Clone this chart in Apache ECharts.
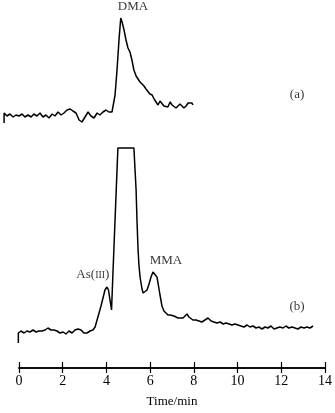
<!DOCTYPE html>
<html>
<head>
<meta charset="utf-8">
<script src="https://cdn.jsdelivr.net/npm/echarts@6/dist/echarts.min.js"></script>
<style>html,body{margin:0;padding:0;background:#fff;}#c{width:335px;height:413px;}</style>
</head>
<body>
<div id="c"></div>
<script>
// Trace (a): time (min) and detector signal (arbitrary units, offset trace)
var timeA = [-0.68,-0.68,-0.55,-0.41,-0.27,-0.14,0,0.14,0.27,0.41,0.55,0.68,0.82,0.96,1.09,1.23,1.37,1.51,1.64,1.78,1.92,2.05,2.19,2.33,2.46,2.60,2.74,2.87,3.01,3.15,3.28,3.42,3.56,3.69,3.83,3.97,4.10,4.24,4.29,4.38,4.47,4.56,4.64,4.70,4.79,4.88,4.97,5.06,5.15,5.24,5.34,5.43,5.52,5.61,5.70,5.79,5.88,5.97,6.07,6.16,6.25,6.34,6.43,6.52,6.61,6.70,6.79,6.89,6.98,7.07,7.16,7.25,7.34,7.43,7.52,7.62,7.71,7.80,7.89,7.93];
var signalA = [254,264,261,263,260,262,261,263,260,262,260,263,261,264,260,262,259,263,261,265,262,264,267,268,266,264,257,255,260,265,261,259,264,262,265,267,265,265,266,282,307,337,359,355,347,337,329,325,317,307,301,299,295,293,291,288,286,283,282,278,275,272,276,274,271,273,270,275,272,274,269,270,273,272,269,271,274,272,274,272];
// Trace (b)
var timeB = [-0.03,-0.03,0.09,0.23,0.36,0.50,0.64,0.78,0.91,1.05,1.19,1.32,1.46,1.60,1.73,1.87,2.01,2.14,2.28,2.42,2.55,2.69,2.83,2.96,3.10,3.24,3.37,3.47,3.56,3.65,3.74,3.83,3.92,4.01,4.08,4.15,4.22,4.29,4.38,4.47,4.51,5.24,5.34,5.38,5.43,5.47,5.52,5.61,5.66,5.75,5.84,5.93,6.02,6.11,6.20,6.29,6.34,6.43,6.52,6.61,6.70,6.79,6.89,6.98,7.07,7.16,7.25,7.34,7.48,7.57,7.66,7.75,7.84,7.93,8.07,8.21,8.34,8.48,8.62,8.76,8.89,9.03,9.17,9.31,9.44,9.58,9.71,9.85,9.99,10.12,10.26,10.40,10.53,10.67,10.81,10.94,11.08,11.22,11.35,11.49,11.63,11.76,11.90,12.04,12.17,12.31,12.45,12.59,12.72,12.86,13.00,13.13,13.27,13.41];
var signalB = [34,44,46,44,46,45,47,45,46,46,47,49,47,47,46,44,45,43,46,44,47,48,47,44,44,46,47,50,57,64,71,79,87,90,87,77,67,107,157,207,229,229,187,157,127,112,100,88,84,83,87,93,100,105,106,100,94,82,71,66,64,62,62,60,61,59,59,60,59,61,63,60,59,57,57,56,55,57,59,56,55,54,55,53,54,53,52,53,52,51,50,52,50,51,49,50,48,50,49,51,48,49,50,49,51,49,50,49,48,50,49,50,49,51];
// Tick labels
var xTicks = [0,2,4,6,8,10,12,14];
// Annotations: text, time, signal
var annoText = ['DMA','(a)','(b)','As(III)','MMA'];
var annoTime = [5.2,12.68,12.68,3.37,6.70];
var annoSignal = [370,282,70,102,116];

function zip(a,b){var r=[];for(var i=0;i<a.length;i++)r.push([a[i],b[i]]);return r;}
var serif = '"Liberation Serif","DejaVu Serif",serif';
var annoData = [];
for (var i=0;i<annoText.length;i++){
  var txt = annoText[i]==='As(III)' ? '{n|As(}{s|III}{n|)}' : '{n|'+annoText[i]+'}';
  annoData.push({value:[annoTime[i],annoSignal[i]], label:{formatter:txt}});
}
var chart = echarts.init(document.getElementById('c'), null, {renderer:'canvas'});
var PX_PER_MIN = 307/14;
var tMin = -0.7;
var axisCommon = {
  type:'value', gridIndex:1, min:0, max:14, interval:2, position:'bottom',
  axisLine:{show:true, lineStyle:{color:'#000', width:1.5}},
  splitLine:{show:false}
};
chart.setOption({
  animation:false,
  backgroundColor:'#fff',
  grid:[
    {left:19 + tMin*PX_PER_MIN, right:9, top:0, bottom:36},
    {left:19, right:9, top:0, bottom:36}
  ],
  xAxis:[
    {type:'value', gridIndex:0, min:tMin, max:14, show:false},
    Object.assign({}, axisCommon, {
      axisTick:{show:true, inside:false, length:5, lineStyle:{color:'#000', width:1.2}},
      axisLabel:{show:true, color:'#000', fontFamily:serif, fontSize:14, margin:6},
      name:'Time/min', nameLocation:'middle', nameGap:27,
      nameTextStyle:{color:'#000', fontFamily:serif, fontSize:13}
    }),
    Object.assign({}, axisCommon, {
      axisTick:{show:true, inside:true, length:6, lineStyle:{color:'#000', width:1.2}},
      axisLabel:{show:false}
    })
  ],
  yAxis:[
    {type:'value', gridIndex:0, min:0, max:377, show:false},
    {type:'value', gridIndex:1, min:0, max:377, show:false}
  ],
  series:[
    {type:'line', xAxisIndex:0, yAxisIndex:0, data:zip(timeA,signalA), showSymbol:false,
      lineStyle:{color:'#000', width:1.5}},
    {type:'line', xAxisIndex:0, yAxisIndex:0, data:zip(timeB,signalB), showSymbol:false,
      lineStyle:{color:'#000', width:1.5}},
    {type:'scatter', xAxisIndex:0, yAxisIndex:0, data:annoData, symbolSize:0, clip:false, silent:true,
      label:{show:true, position:'inside', color:'#000',
        rich:{n:{fontFamily:serif, fontSize:13, color:'#000'},
              s:{fontFamily:serif, fontSize:10, color:'#000'}}}}
  ]
});
</script>
</body>
</html>
